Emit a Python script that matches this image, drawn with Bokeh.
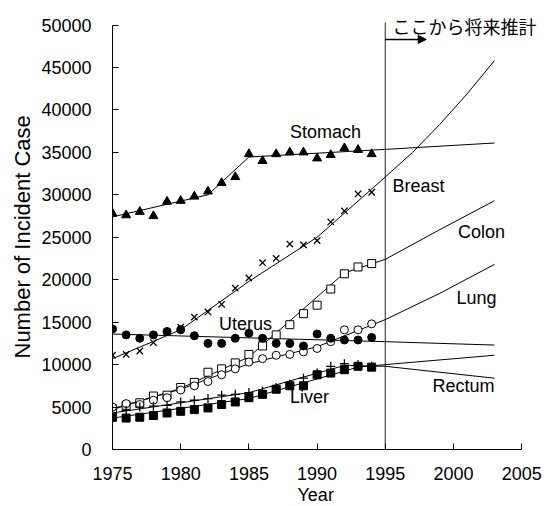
from bokeh.plotting import figure
from bokeh.models import Range1d, Arrow, NormalHead, FixedTicker, NumeralTickFormatter, Title
from bokeh.core.properties import value
from bokeh.embed import file_html
from bokeh.resources import INLINE

# ---------------- data ----------------
years = list(range(1975, 1995))

stomach = [27800, 27600, 28000, 27500, 29200, 29300, 29800, 30400, 31400, 32100,
           34800, 34000, 34800, 35000, 35000, 34300, 34700, 35500, 35300, 34800]
breast = [11100, 11200, 11600, 12600, 13900, 14400, 15600, 16200, 17100, 19000,
          20200, 22000, 22500, 24200, 24100, 24600, 26800, 28100, 30100, 30300]
colon = [4800, 5200, 5500, 6300, 6400, 7300, 7900, 9100, 9500, 10200,
         11200, 12200, 13500, 14700, 16000, 17000, 18900, 20700, 21500, 21900]
lung = [5000, 5400, 5300, 5800, 6100, 7000, 7500, 8000, 8800, 9500,
        10300, 10700, 11100, 11200, 11500, 11900, 12700, 14100, 14100, 14800]
uterus = [14200, 13500, 13100, 13500, 13900, 14100, 13400, 12500, 12500, 13100,
          13700, 13100, 12500, 12500, 12200, 13600, 13100, 12900, 12900, 13200]
liver = [4300, 4600, 5000, 5100, 5200, 5600, 5800, 6000, 6400, 6500,
         6700, 6900, 7300, 7700, 8400, 9000, 9800, 10100, 10000, 9800]
rectum = [3800, 3700, 3800, 4000, 4300, 4500, 4700, 4900, 5300, 5600,
          6100, 6500, 7100, 7500, 7500, 8800, 9000, 9400, 9800, 9700]

# fitted / projected curves (knots)
stomach_fit_x = [1975, 1982, 1985, 1995, 2003]
stomach_fit_y = [27400, 30000, 34450, 35350, 36100]
breast_fit_x = [1975, 1980, 1985, 1990, 1995, 1997, 1999, 2001, 2003]
breast_fit_y = [10700, 14100, 19800, 25000, 32100, 35000, 38300, 41900, 45800]
colon_fit_x = [1975, 1980, 1985, 1992, 1995, 1999, 2003]
colon_fit_y = [4700, 7200, 10900, 20800, 22400, 25900, 29300]
lung_fit_x = [1975, 1980, 1985, 1990, 1995, 1999, 2003]
lung_fit_y = [4800, 7100, 10100, 12100, 15300, 18400, 21800]
uterus_fit_x = [1975, 1995, 2003]
uterus_fit_y = [13600, 12700, 12300]
liver_fit_x = [1975, 1985, 1992, 1995, 2003]
liver_fit_y = [4300, 6700, 9900, 9800, 8400]
rectum_fit_x = [1975, 1985, 1993, 1995, 2003]
rectum_fit_y = [3700, 6000, 9700, 10000, 11100]

x_ticks = [1975, 1980, 1985, 1990, 1995, 2000, 2005]
y_ticks = list(range(0, 50001, 5000))
projection_year = 1995

# ---------------- figure ----------------
p = figure(width=550, height=506, output_backend="svg", toolbar_location=None,
           x_range=Range1d(1975, 2007.11), y_range=Range1d(0, 52886),
           min_border_left=112, min_border_right=0, min_border_top=0,
           min_border_bottom=57)
p.outline_line_color = None
p.grid.visible = False
p.background_fill_color = "white"

FONT = "Liberation Sans"

for ax in (p.xaxis[0], p.yaxis[0]):
    ax.axis_line_color = "black"
    ax.axis_line_width = 1
    ax.major_tick_line_color = "black"
    ax.major_tick_in = 6
    ax.major_tick_out = 0
    ax.minor_tick_line_color = None
    ax.major_label_text_font = FONT
    ax.major_label_text_font_size = "18px"
    ax.major_label_text_color = "black"

p.xaxis.bounds = (1975, 2005)
p.xaxis.ticker = FixedTicker(ticks=x_ticks)
p.xaxis.major_label_standoff = 17

p.yaxis.bounds = (0, 50000)
p.yaxis.ticker = FixedTicker(ticks=y_ticks)
p.yaxis.formatter = NumeralTickFormatter(format="0")
p.yaxis.major_label_standoff = 21

# axis titles, positioned to sit on the centre of each axis span
p.add_layout(Title(text="Number of Incident Case", align="left", offset=91, standoff=8,
                   text_font=FONT, text_font_size="22px", text_font_style="normal",
                   text_color="black"), "left")
p.add_layout(Title(text="Year", align="left", offset=185, standoff=0,
                   text_font=FONT, text_font_size="18px", text_font_style="normal",
                   text_color="black"), "below")

# projection divider
p.segment(x0=[projection_year], y0=[0], x1=[projection_year], y1=[50300],
          line_color="#555555", line_width=1.3)

# fitted lines
for fx, fy in [(stomach_fit_x, stomach_fit_y), (breast_fit_x, breast_fit_y),
               (colon_fit_x, colon_fit_y), (lung_fit_x, lung_fit_y),
               (uterus_fit_x, uterus_fit_y), (liver_fit_x, liver_fit_y),
               (rectum_fit_x, rectum_fit_y)]:
    p.line(fx, fy, line_color="black", line_width=1)

# observed markers
p.scatter(years, stomach, marker="triangle", size=9, fill_color="black", line_color="black")
p.scatter(years, breast, marker="x", size=9, line_color="black", line_width=1.3)
p.scatter(years, colon, marker="square", size=8, fill_color="white", line_color="black", line_width=1)
p.scatter(years, lung, marker="circle", size=8, fill_color="white", line_color="black", line_width=1)
p.scatter(years, uterus, marker="circle", size=8, fill_color="black", line_color="black")
p.scatter(years, liver, marker="cross", size=9, line_color="black", line_width=1.3)
p.scatter(years, rectum, marker="square", size=8, fill_color="black", line_color="black")

# series labels
p.text(x=[1990.62, 2002.05, 2001.69, 1984.75, 1989.44, 2000.73],
       y=[37456, 25560, 17903, 14841, 6125, 7538],
       text=["Stomach", "Colon", "Lung", "Uterus", "Liver", "Rectum"],
       text_font=value(FONT), text_font_size="18px", text_color="black",
       text_align="center", text_baseline="middle")
p.text(x=[1995.53], y=[31095], text=["Breast"],
       text_font=value(FONT), text_font_size="18px", text_color="black",
       text_align="left", text_baseline="middle")

# projection arrow and note
p.add_layout(Arrow(end=NormalHead(size=8, fill_color="black", line_color="black"),
                   x_start=projection_year, y_start=48300, x_end=1998.0, y_end=48300,
                   line_color="black", line_width=1.5))
p.text(x=[1995.53], y=[49940], text=["ここから将来推計"],
       text_font=value("Noto Sans CJK JP"), text_font_size="18px", text_color="black",
       text_align="left", text_baseline="middle")

open("out.html", "w").write(file_html(p, INLINE))
